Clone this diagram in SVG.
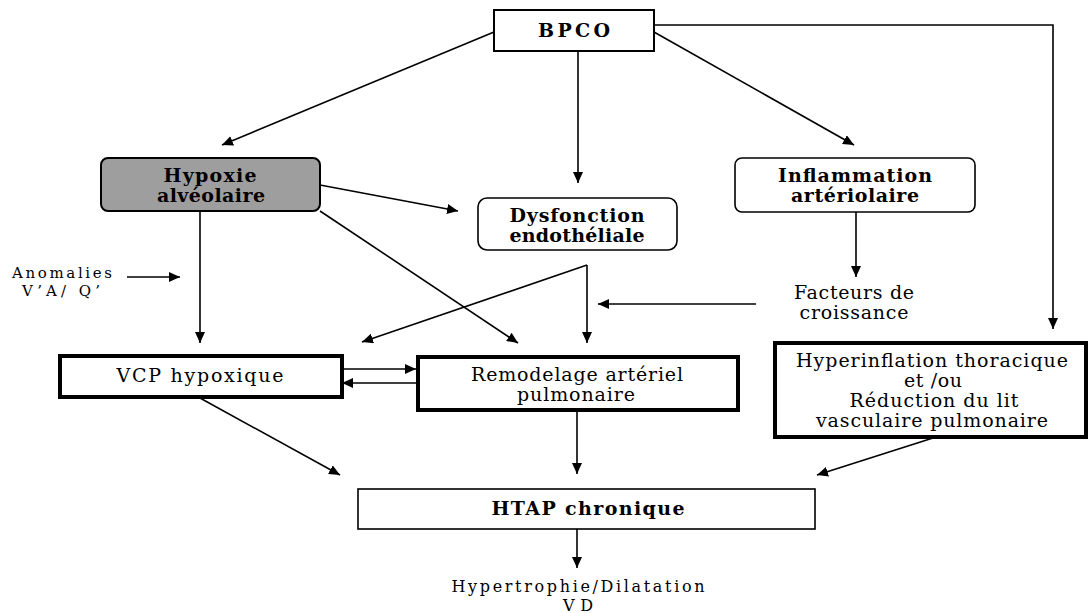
<svg xmlns="http://www.w3.org/2000/svg" width="1089" height="613" viewBox="0 0 1089 613">
<style>
  .bg{fill:#ffffff}
  .box{fill:#ffffff;stroke:#000;stroke-width:1.6}
  .thick{fill:#ffffff;stroke:#000;stroke-width:4}
  .gray{fill:#9e9e9e;stroke:#000;stroke-width:2}
  .t{font-family:"DejaVu Serif","Liberation Serif",serif;font-size:19px;fill:#000;text-anchor:middle}
  .b{font-weight:bold}
  .s{font-size:15px}
  .m{font-size:16px}
  .c line,.c path{stroke:#000;stroke-width:1.6;fill:none;marker-end:url(#ah)}
</style>
<defs>
  <marker id="ah" markerUnits="userSpaceOnUse" markerWidth="12" markerHeight="10" refX="11" refY="5" orient="auto">
    <path d="M0,0 L11,5 L0,10 z" fill="#000"/>
  </marker>
</defs>
<rect class="bg" x="0" y="0" width="1089" height="613"/>

<g id="connectors" class="c">
  <line x1="494" y1="32" x2="222" y2="145"/>
  <line x1="578" y1="51" x2="578" y2="183"/>
  <line x1="654" y1="32" x2="854" y2="145"/>
  <path d="M654,25 H1053 V329"/>
  <line x1="200" y1="211" x2="200" y2="343"/>
  <line x1="127" y1="277" x2="180" y2="277"/>
  <line x1="320" y1="185" x2="458" y2="211"/>
  <line x1="320" y1="211" x2="518" y2="343"/>
  <line x1="587" y1="265" x2="362" y2="342"/>
  <line x1="587" y1="265" x2="587" y2="343"/>
  <line x1="756" y1="304" x2="598" y2="304"/>
  <line x1="856" y1="212" x2="856" y2="277"/>
  <line x1="342" y1="369" x2="416" y2="369"/>
  <line x1="418" y1="383" x2="342" y2="383"/>
  <line x1="200" y1="398" x2="340" y2="475"/>
  <line x1="577" y1="410" x2="577" y2="474"/>
  <line x1="933" y1="438" x2="817" y2="475"/>
  <line x1="577" y1="529" x2="577" y2="568"/>
</g>

<g id="bpco">
  <rect class="box" x="494" y="10" width="160" height="41" style="stroke-width:2"/>
  <text class="t b" x="574" y="37" textLength="72" lengthAdjust="spacing">BPCO</text>
</g>

<g id="hypoxie">
  <rect class="gray" x="101" y="158" width="219" height="53" rx="7"/>
  <text class="t b" x="210" y="182" textLength="93" lengthAdjust="spacing">Hypoxie</text>
  <text class="t b" x="211" y="202" textLength="108" lengthAdjust="spacing">alvéolaire</text>
</g>

<g id="dysfonction">
  <rect class="box" x="478" y="198" width="199" height="52" rx="9"/>
  <text class="t b" x="577" y="222" textLength="135" lengthAdjust="spacing">Dysfonction</text>
  <text class="t b" x="577" y="242" textLength="135" lengthAdjust="spacing">endothéliale</text>
</g>

<g id="inflammation">
  <rect class="box" x="735" y="158" width="240" height="54" rx="7"/>
  <text class="t b" x="855" y="182" textLength="154" lengthAdjust="spacing">Inflammation</text>
  <text class="t b" x="855" y="202" textLength="128" lengthAdjust="spacing">artériolaire</text>
</g>

<g id="facteurs">
  <text class="t" x="854" y="299" textLength="120" lengthAdjust="spacing">Facteurs de</text>
  <text class="t" x="854" y="319" textLength="109" lengthAdjust="spacing">croissance</text>
</g>

<g id="anomalies">
  <text class="t s" x="62" y="278" textLength="100" lengthAdjust="spacing">Anomalies</text>
  <text class="t s" x="61" y="296" textLength="78" lengthAdjust="spacing">V’A/ Q’</text>
</g>

<g id="vcp">
  <rect class="thick" x="60" y="356" width="282" height="41"/>
  <text class="t" x="200" y="382" textLength="167" lengthAdjust="spacing">VCP hypoxique</text>
</g>

<g id="remodelage">
  <rect class="thick" x="418" y="357" width="320" height="53"/>
  <text class="t" x="577" y="381" textLength="212" lengthAdjust="spacing">Remodelage artériel</text>
  <text class="t" x="576" y="401" textLength="118" lengthAdjust="spacing">pulmonaire</text>
</g>

<g id="hyperinflation">
  <rect class="thick" x="775" y="343" width="311" height="94"/>
  <text class="t" x="932" y="367" textLength="272" lengthAdjust="spacing">Hyperinflation thoracique</text>
  <text class="t" x="933" y="387" textLength="58" lengthAdjust="spacing">et /ou</text>
  <text class="t" x="934" y="407" textLength="169" lengthAdjust="spacing">Réduction du lit</text>
  <text class="t" x="932" y="427" textLength="232" lengthAdjust="spacing">vasculaire pulmonaire</text>
</g>

<g id="htap">
  <rect class="box" x="358" y="489" width="457" height="40"/>
  <text class="t b" x="588" y="515" textLength="193" lengthAdjust="spacing">HTAP chronique</text>
</g>

<g id="hypertrophie">
  <text class="t m" x="578" y="592" textLength="253" lengthAdjust="spacing">Hypertrophie/Dilatation</text>
  <text class="t m" x="578" y="611" textLength="30" lengthAdjust="spacing">VD</text>
</g>
</svg>
